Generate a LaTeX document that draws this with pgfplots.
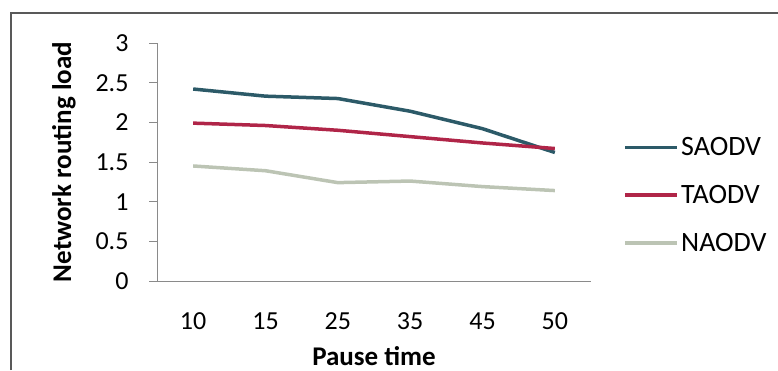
\documentclass[border=0pt]{standalone}
\usepackage{pgfplots}
\pgfplotsset{compat=1.18}
\usepackage{fontspec}
\setmainfont{Carlito}

\definecolor{saodv}{HTML}{2C5A68}
\definecolor{taodv}{HTML}{B02548}
\definecolor{naodv}{HTML}{BCC4B4}
\definecolor{axisgray}{HTML}{8A8A8A}

\begin{document}
\begin{tikzpicture}
\path[use as bounding box] (0pt,0pt) rectangle (778pt,-370pt);
% chart frame (left and top edges)
\draw[line width=2.2pt, draw=black!65] (11pt,-370pt) -- (11pt,-13pt) -- (778pt,-13pt);

\begin{axis}[
  at={(157pt,-281pt)}, anchor=south west,
  scale only axis,
  width=434pt, height=238pt,
  xmin=-0.5, xmax=5.5,
  ymin=0, ymax=3,
  xtick={0,1,2,3,4,5},
  xticklabels={10,15,25,35,45,50},
  ytick={0,0.5,1,1.5,2,2.5,3},
  yticklabels={0,0.5,1,1.5,2,2.5,3},
  axis x line*=bottom,
  axis y line*=left,
  axis line style={draw=axisgray, line width=1pt},
  x axis line style={-},
  y axis line style={-},
  major x tick style={draw=none},
  major y tick style={draw=axisgray, line width=1pt},
  tick align=outside,
  major tick length=8pt,
  ticklabel style={font=\fontsize{26}{28}\selectfont, text=black},
  xticklabel style={yshift=-20pt},
  yticklabel style={xshift=-17pt},
  xlabel={\textbf{Pause time}},
  ylabel={\textbf{Network routing load}},
  label style={font=\fontsize{27}{29}\selectfont},
  xlabel style={inner sep=1pt, yshift=-12pt},
  ylabel style={yshift=13pt},
  legend style={
    at={(1.068,0.361)}, anchor=west, draw=none, fill=none,
    font=\fontsize{28}{30}\selectfont,
    row sep=24pt,
    /tikz/every even column/.append style={column sep=2pt}
  },
  legend cell align=left,
  legend image code/.code={\draw[#1, line width=3.5pt] (0pt,0pt) -- (52pt,0pt);},
  every axis plot/.append style={line width=3.5pt, line join=round},
  clip=false,
]
\addplot[saodv] coordinates {(0,2.42) (1,2.33) (2,2.30) (3,2.14) (4,1.92) (5,1.62)};
\addlegendentry{SAODV}
\addplot[taodv] coordinates {(0,1.99) (1,1.96) (2,1.90) (3,1.82) (4,1.74) (5,1.67)};
\addlegendentry{TAODV}
\addplot[naodv] coordinates {(0,1.45) (1,1.39) (2,1.24) (3,1.26) (4,1.19) (5,1.14)};
\addlegendentry{NAODV}
\end{axis}
\end{tikzpicture}
\end{document}
